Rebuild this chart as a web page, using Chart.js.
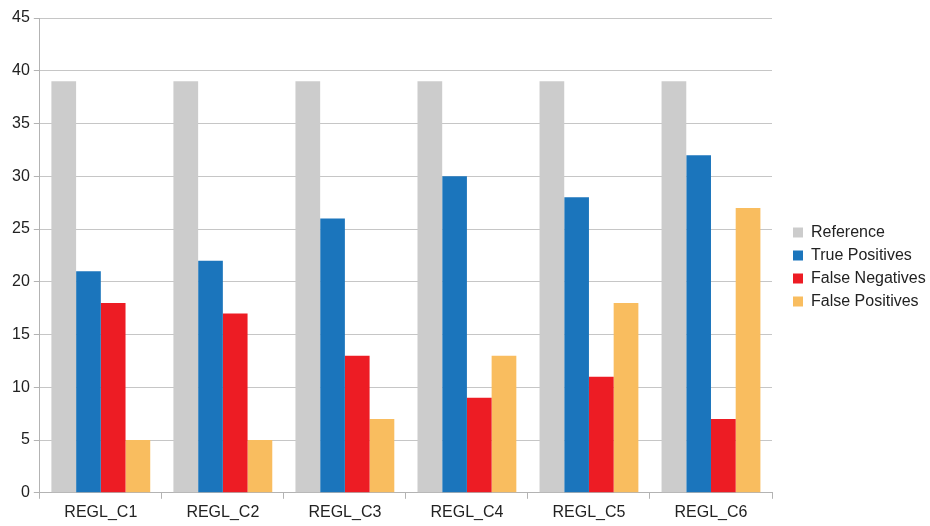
<!DOCTYPE html>
<html>
<head>
<meta charset="utf-8">
<script src="https://cdn.jsdelivr.net/npm/chart.js@4/dist/chart.umd.min.js"></script>
<style>
  html, body { margin: 0; padding: 0; background: #fff; }
  #wrap { width: 930px; height: 526px; }
</style>
</head>
<body>
<div id="wrap"><canvas id="ch"></canvas></div>
<script>
// Datos
const categorias = ['REGL_C1', 'REGL_C2', 'REGL_C3', 'REGL_C4', 'REGL_C5', 'REGL_C6'];
const reference = [39, 39, 39, 39, 39, 39];
const truePositives = [21, 22, 26, 30, 28, 32];
const falseNegatives = [18, 17, 13, 9, 11, 7];
const falsePositives = [5, 5, 7, 13, 18, 27];
const yTicks = { min: 0, max: 45, step: 5 };

Chart.defaults.font.family = '"Liberation Sans", Arial, sans-serif';
Chart.defaults.font.size = 16;
Chart.defaults.color = '#222';

const gridGris = '#c6c6c6';
const LEYENDA_ANCHO = 158;  // reserva a la derecha del área de trazado
const LEYENDA_X = 786;      // borde izquierdo de la leyenda
const LEYENDA_DY = -5;      // subir un poco la leyenda

// Ajusta ancho y posición de la leyenda
const ajusteLeyenda = {
    id: 'ajusteLeyenda',
    beforeLayout(chart) {
        const lg = chart.legend;
        if (lg && !lg._envuelto) {
            const fitOrig = lg.fit;
            lg.fit = function () {
                fitOrig.call(this);
                this.width = LEYENDA_ANCHO;
            };
            lg._envuelto = true;
        }
    },
    afterLayout(chart) {
        const lg = chart.legend;
        if (!lg) return;
        const dx = LEYENDA_X - lg.left;
        lg.left += dx;
        lg.right += dx;
        lg.top += LEYENDA_DY;
        lg.bottom += LEYENDA_DY;
    }
};

new Chart(document.getElementById('ch'), {
    type: 'bar',
    data: {
        labels: categorias,
        datasets: [
            { label: 'Reference', data: reference, backgroundColor: '#cccccc' },
            { label: 'True Positives', data: truePositives, backgroundColor: '#1b75bc' },
            { label: 'False Negatives', data: falseNegatives, backgroundColor: '#ed1c24' },
            { label: 'False Positives', data: falsePositives, backgroundColor: '#f9bd5f' }
        ]
    },
    plugins: [ajusteLeyenda],
    options: {
        responsive: true,
        maintainAspectRatio: false,
        animation: false,
        datasets: { bar: { barPercentage: 1, categoryPercentage: 0.81 } },
        layout: { padding: { top: 18, right: 0, bottom: 0, left: 8 } },
        plugins: {
            tooltip: { enabled: false },
            legend: {
                position: 'right',
                labels: { boxWidth: 10, boxHeight: 10, padding: 7, font: { size: 16 } }
            }
        },
        scales: {
            x: {
                offset: true,
                grid: {
                    offset: true,
                    drawOnChartArea: true,
                    color: c => (c.index === categorias.length ? gridGris : 'rgba(0,0,0,0)'),
                    tickColor: '#b3b3b3',
                    tickLength: 6
                },
                border: { color: '#b3b3b3' },
                ticks: { padding: 4, font: { size: 16 } }
            },
            y: {
                min: yTicks.min,
                max: yTicks.max,
                ticks: { stepSize: yTicks.step, padding: 4, font: { size: 16 } },
                grid: { color: gridGris, tickColor: '#b3b3b3', tickLength: 6 },
                border: { color: '#b3b3b3' }
            }
        }
    }
});
</script>
</body>
</html>
